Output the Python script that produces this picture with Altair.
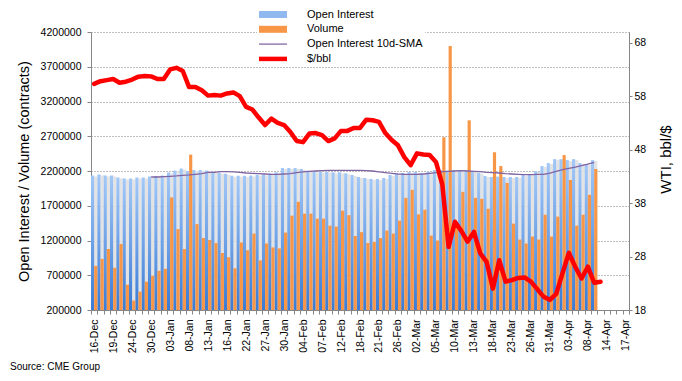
import altair as alt
import pandas as pd

# ---------------- data ----------------
categories = [
    "16-Dec", "17-Dec", "18-Dec", "19-Dec", "20-Dec", "23-Dec", "24-Dec", "26-Dec", "27-Dec", "30-Dec", "31-Dec",
    "02-Jan", "03-Jan", "06-Jan", "07-Jan", "08-Jan", "09-Jan", "10-Jan", "13-Jan", "14-Jan", "15-Jan", "16-Jan",
    "17-Jan", "21-Jan", "22-Jan", "23-Jan", "24-Jan", "27-Jan", "28-Jan", "29-Jan", "30-Jan", "31-Jan",
    "03-Feb", "04-Feb", "05-Feb", "06-Feb", "07-Feb", "10-Feb", "11-Feb", "12-Feb", "13-Feb", "14-Feb", "18-Feb",
    "19-Feb", "20-Feb", "21-Feb", "24-Feb", "25-Feb", "26-Feb", "27-Feb", "28-Feb",
    "02-Mar", "03-Mar", "04-Mar", "05-Mar", "06-Mar", "09-Mar", "10-Mar", "11-Mar", "12-Mar", "13-Mar", "16-Mar",
    "17-Mar", "18-Mar", "19-Mar", "20-Mar", "23-Mar", "24-Mar", "25-Mar", "26-Mar", "27-Mar", "30-Mar", "31-Mar",
    "01-Apr", "02-Apr", "03-Apr", "06-Apr", "07-Apr", "08-Apr", "09-Apr", "13-Apr", "14-Apr", "15-Apr", "16-Apr",
    "17-Apr",
]

tick_labels = [
    "16-Dec", "19-Dec", "24-Dec", "30-Dec", "03-Jan", "08-Jan", "13-Jan", "16-Jan", "22-Jan", "27-Jan",
    "30-Jan", "04-Feb", "07-Feb", "12-Feb", "18-Feb", "21-Feb", "26-Feb", "02-Mar", "05-Mar", "10-Mar",
    "13-Mar", "18-Mar", "23-Mar", "26-Mar", "31-Mar", "03-Apr", "08-Apr", "14-Apr", "17-Apr",
]

open_interest = [
    2135000, 2150000, 2135000, 2135000, 2107000, 2093000, 2093000, 2107000, 2107000, 2120000,
    2128000, 2135000, 2180000, 2207000, 2236000, 2200000, 2215000, 2214000, 2207000, 2190000,
    2175000, 2160000, 2132000, 2132000, 2130000, 2135000, 2148000, 2150000, 2162000, 2181000,
    2243000, 2243000, 2243000, 2229000, 2205000, 2195000, 2190000, 2190000, 2181000, 2181000,
    2167000, 2143000, 2114000, 2100000, 2086000, 2086000, 2100000, 2143000, 2152000, 2171000,
    2186000, 2186000, 2171000, 2190000, 2214000, 2214000, 2205000, 2214000, 2214000, 2205000,
    2200000, 2176000, 2129000, 2114000, 2119000, 2114000, 2114000, 2114000, 2143000, 2157000,
    2200000, 2271000, 2314000, 2371000, 2371000, 2357000, 2371000, 2314000, 2300000, 2357000,
]

volume = [
    835000, 935000, 1078000, 807000, 1150000, 564000, 336000, 464000, 607000, 693000,
    764000, 793000, 1820000, 1364000, 1078000, 2436000, 1436000, 1236000, 1207000, 1164000,
    1020000, 960000, 800000, 1171000, 1060000, 1300000, 914000, 1157000, 1100000, 1086000,
    1314000, 1557000, 1757000, 1586000, 1586000, 1514000, 1514000, 1414000, 1400000, 1629000,
    1565000, 1265000, 1320000, 1165000, 1180000, 1235000, 1343000, 1300000, 1486000, 1814000,
    1929000, 1576000, 1643000, 1271000, 1200000, 2686000, 4000000, 1429000, 1900000, 2929000,
    1814000, 1800000, 1657000, 2471000, 2271000, 2029000, 1443000, 1214000, 1157000, 1257000,
    1214000, 1571000, 1257000, 1543000, 2429000, 2071000, 1414000, 1571000, 1857000, 2229000,
]

sma_start = 9  # first category with a 10-day average
oi_sma = [
    2114000, 2114000, 2119000, 2124000, 2129000, 2138000, 2143000, 2152000, 2162000, 2181000,
    2181000, 2190000, 2190000, 2186000, 2181000, 2171000, 2167000, 2162000, 2157000, 2152000,
    2152000, 2157000, 2162000, 2176000, 2186000, 2195000, 2200000, 2205000, 2210000, 2210000,
    2210000, 2210000, 2210000, 2210000, 2205000, 2200000, 2186000, 2176000, 2167000, 2157000,
    2152000, 2152000, 2152000, 2157000, 2167000, 2176000, 2190000, 2195000, 2200000, 2205000,
    2200000, 2195000, 2190000, 2181000, 2176000, 2171000, 2162000, 2157000, 2152000, 2148000,
    2148000, 2152000, 2152000, 2171000, 2195000, 2219000, 2238000, 2257000, 2276000, 2300000,
    2324000,
]

wti_price = [
    60.3, 60.8, 61.0, 61.2, 60.5, 60.7, 61.1, 61.65, 61.75, 61.7,
    61.2, 61.2, 63.0, 63.3, 62.7, 59.7, 59.7, 59.1, 58.1, 58.2,
    58.1, 58.5, 58.7, 58.0, 56.0, 55.5, 54.0, 52.6, 53.8, 53.0,
    52.6, 51.3, 49.6, 49.4, 51.0, 51.1, 50.7, 49.6, 50.1, 51.5,
    51.5, 52.06, 52.06, 53.6, 53.5, 53.2, 51.1, 49.8, 48.8, 46.6,
    45.1, 47.3, 47.1, 47.0, 45.7, 41.5, 29.8, 34.5, 32.8, 30.8,
    32.6, 28.6, 27.0, 22.0, 27.3, 23.3, 23.6, 24.0, 24.1, 23.3,
    21.9, 20.5, 19.9, 21.0, 24.9, 28.7, 26.1, 23.9, 26.1, 23.1,
    23.3,
]

left_ticks = [200000, 700000, 1200000, 1700000, 2200000, 2700000, 3200000, 3700000, 4200000]
right_ticks = [18, 28, 38, 48, 58, 68]

legend_labels = ["Open Interest", "Volume", "Open Interest 10d-SMA", "$/bbl"]

# ---------------- styles ----------------
FONT = "Liberation Sans"
AXIS_GREY = "#868686"
legend_colors = ["#8fb9ef", "#f79646", "#8064a2", "#ff0000"]
legend_shapes = [
    "M-2,-0.5H2V0.5H-2Z",
    "M-2,-0.5H2V0.5H-2Z",
    "M-2,-0.09H2V0.09H-2Z",
    "M-2,-0.32H2V0.32H-2Z",
]
W, H = 538, 278
HALF = W / len(categories) / 4  # quarter of a band, in px

bar_df = pd.DataFrame({"date": categories[:len(open_interest)], "oi": open_interest, "vol": volume})
sma_df = pd.DataFrame({"date": categories[sma_start:sma_start + len(oi_sma)], "sma": oi_sma})
price_df = pd.DataFrame({"date": categories[:len(wti_price)], "price": wti_price})
leg_df = pd.DataFrame({"series": legend_labels})

label_expr = ("indexof([" + ",".join("'%s'" % t for t in tick_labels) +
              "], datum.value) >= 0 ? datum.value : ''")

x_scale = alt.Scale(domain=categories, paddingInner=0, paddingOuter=0)
x_axis = alt.Axis(
    title=None, labelExpr=label_expr, labelAngle=270, labelFontSize=10.5, labelFont=FONT,
    labelColor="black", labelOverlap=False, tickBand="extent", tickSize=4, tickColor=AXIS_GREY,
    domainColor=AXIS_GREY, labelPadding=5, grid=False,
)
y_scale = alt.Scale(domain=[200000, 4200000], nice=False, zero=False)
Y_TITLE = "Open Interest / Volume (contracts)"
y_axis = alt.Axis(
    title=Y_TITLE, values=left_ticks, format="d",
    labelFontSize=10.5, labelFont=FONT, labelColor="black", tickSize=4, tickColor=AXIS_GREY,
    domainColor=AXIS_GREY, labelPadding=6, grid=True, gridColor="#7f7f7f", gridDash=[1, 2],
    titleFontSize=14.5, titleFont=FONT, titleFontWeight="normal", titleColor="black",
    titleAngle=270, titleBaseline="middle", titleAlign="center", titleX=-67, titleY=H / 2,
)
y2_scale = alt.Scale(domain=[18, 70], nice=False, zero=False)
y2_axis = alt.Axis(
    orient="right", title="WTI, bbl/$", values=right_ticks, labelFontSize=10.5, labelFont=FONT,
    labelColor="black", tickSize=3, tickColor=AXIS_GREY, domainColor=AXIS_GREY, labelPadding=2,
    grid=False, titleFontSize=15, titleFont=FONT, titleFontWeight="normal", titleColor="black",
    titleAngle=270, titleBaseline="middle", titleAlign="center", titleX=36, titleY=H / 2 - 12,
)

X = alt.X("date:N", scale=x_scale, axis=x_axis, sort=categories, title=None)
base_y = alt.datum(200000)


def left_y(field):
    return alt.Y(field, scale=y_scale, axis=y_axis, title=Y_TITLE)


shadow = alt.Chart(bar_df).mark_bar(
    color="#e3e3e3", width=alt.RelativeBandSize(0.5), xOffset=HALF, yOffset=1
).encode(x=X, y=left_y("oi:Q"), y2=base_y)

oi_bars = alt.Chart(bar_df).mark_bar(
    color=alt.LinearGradient(
        gradient="linear",
        stops=[alt.GradientStop(color="#a3c8f7", offset=0), alt.GradientStop(color="#3a7bd5", offset=1)],
        x1=0, x2=0, y1=0, y2=1,
    ),
    width=alt.RelativeBandSize(0.5), xOffset=-HALF,
).encode(x=X, y=left_y("oi:Q"), y2=base_y)

vol_bars = alt.Chart(bar_df).mark_bar(
    color="#f79646", width=alt.RelativeBandSize(0.5), xOffset=HALF
).encode(x=X, y=left_y("vol:Q"), y2=base_y)

sma_line = alt.Chart(sma_df).mark_line(color="#8064a2", strokeWidth=1.3).encode(
    x=X, y=left_y("sma:Q")
)

legend = alt.Legend(
    title=None, orient="none", legendX=166, legendY=-26.5, direction="vertical",
    labelFont=FONT, labelFontSize=11, labelColor="black", symbolSize=196, symbolOffset=7,
    labelOffset=27, rowPadding=2.8, padding=2, fillColor="white", symbolStrokeWidth=0,
    symbolOpacity=1,
)
legend_layer = alt.Chart(leg_df).mark_point(size=0, filled=True, opacity=1).encode(
    color=alt.Color("series:N", scale=alt.Scale(domain=legend_labels, range=legend_colors), legend=legend),
    shape=alt.Shape("series:N", scale=alt.Scale(domain=legend_labels, range=legend_shapes), legend=legend),
)

left = alt.layer(shadow, oi_bars, vol_bars, sma_line, legend_layer)

price_line = alt.Chart(price_df).mark_line(
    color="#ff0000", strokeWidth=4.5, strokeCap="round", strokeJoin="round"
).encode(x=X, y=alt.Y("price:Q", scale=y2_scale, axis=y2_axis, title="WTI, bbl/$"))

chart = alt.layer(left, price_line).resolve_scale(y="independent").properties(
    width=W, height=H,
    autosize=alt.AutoSizeParams(type="none"),
    padding={"left": 83, "top": 24, "right": 45, "bottom": 63},
    background="white",
    title=alt.TitleParams(
        "Source: CME Group", orient="bottom", anchor="start", frame="group",
        fontSize=10, font=FONT, fontWeight="normal", color="black", dx=-81, offset=9,
    ),
).configure_view(stroke=None)

chart.save("out.html", embed_options={"renderer": "svg", "actions": False})
